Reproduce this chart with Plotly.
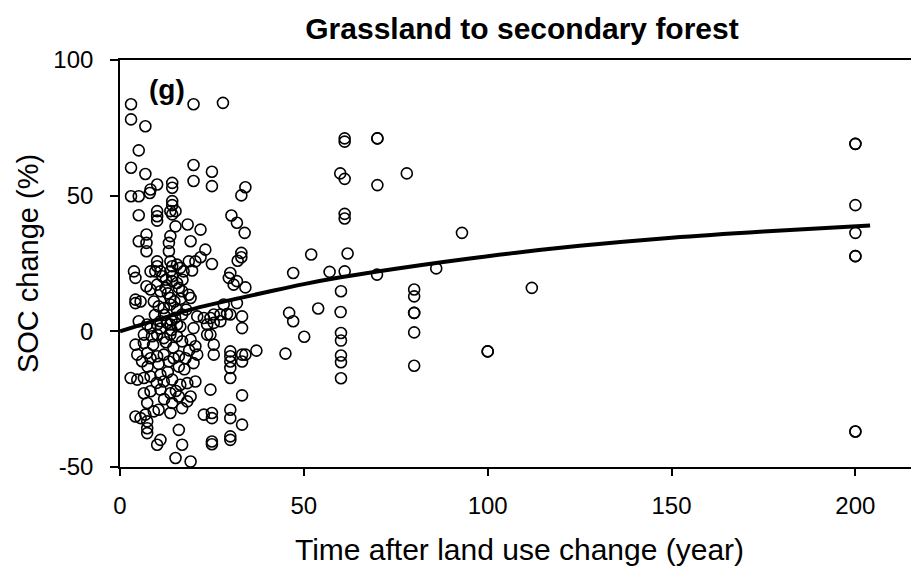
import plotly.graph_objects as go

AGE = [
    3, 20, 28, 3, 6.9, 5.1, 3, 6.9, 20, 25, 10.1, 14.2, 14.2, 20, 25, 8.3,
    3, 5.1, 8.1, 14.2, 14.2, 5.1, 10.1, 10.1, 10.1, 13.7, 15.1, 14.2, 15.1, 18.4, 21.9,
    7.2, 5.1, 7.2, 7.2, 13.7, 13.3, 13.3, 19.2, 23.2, 21.9, 18.7, 20.5, 19.6, 25,
    10.1, 10.1, 9.6, 11, 11.5, 13.7, 14.2, 13.7, 14.2, 15.5, 16.4, 17.3, 3.8, 4.2, 8.3,
    7.2, 8.3, 10.1, 11, 12.4, 14.2, 15.5, 16, 16.9, 18.7, 19.2, 4.2, 4.2, 5.6, 9.2,
    10.5, 11.9, 13.7, 13.7, 15.5, 16.9, 21, 22.8, 24.6, 27.3, 29.1, 5.1, 7.4, 11, 12.8, 15.5,
    34.1, 33, 30.3, 31.8, 33.9, 33, 33, 32, 30, 29.6, 31.8, 30.9, 34.1, 31.8, 28.2,
    30, 33.2, 25.5, 25.5, 33.2, 37.1, 33.2, 34.1, 33.2, 30, 30, 30, 30, 30, 33.2,
    30, 30, 33.2, 30, 30,
    61.1, 61.1, 70, 70, 59.9, 61.1, 70, 78, 61.1, 61.1, 52, 61.9, 47.1, 57, 61.1, 69.9,
    60.1, 80, 80, 46, 47.1, 53.9, 60, 80, 80, 50.1, 60.1, 60.1, 80, 45, 60.1, 60.1,
    60.1, 80, 86, 93, 112, 100, 100,
    200, 200, 200, 200, 200, 200, 200, 200,
    8.3, 10.1, 13.7, 16.4, 20, 23.7, 24.6, 27.3, 4.2, 6.5, 6.5, 8.7, 10.1, 11.9, 13.7,
    15.5, 16.9, 19.2, 20.5, 23.7, 25.5, 25.5, 4.7, 7.4, 8.3, 10.1, 11.9, 13.3, 14.6, 16,
    17.8, 20, 21, 2.9, 4.7, 6.5, 8.3, 11, 11.9, 14.2, 16.4, 18.3, 20.5, 6.5, 8.3, 11,
    13.7, 16, 19.2, 24.6, 7.4, 9.2, 10.5, 14.2, 13.7, 18.3, 16.9, 22.8, 25, 25, 4.2,
    5.6, 6.9, 7.4, 7.4, 7.4, 16, 11, 10.1, 16.9, 25, 25, 15.1, 19.2,
    12.5, 13, 14.8, 15, 16.5, 17, 18, 12, 14, 9.5, 11, 12.5, 14.5, 16, 13, 10.5, 9,
    7.5, 15.2, 12, 17.5, 18.8, 6, 10, 14,
]
SOC = [
    83.7, 83.7, 84.2, 78.1, 75.6, 66.7, 60.3, 58, 61.3, 58.8, 54.1, 54.7, 52.9, 55.4, 53.5, 52.3,
    49.8, 49.8, 51, 48, 46.5, 42.8, 44.3, 42.4, 40.8, 44.3, 44.3, 43.1, 38.7, 39.4, 37.5,
    35.7, 33.2, 32.6, 29.5, 35.1, 32.6, 29.5, 33.2, 30.1, 27.3, 25.8, 25.8, 22.4, 24.8,
    25.8, 24, 22.1, 22.1, 20.3, 25.8, 24, 22.1, 20.3, 24.6, 23.4, 22.1, 22.1, 19.7, 22.1,
    16.6, 15.4, 17.2, 14.8, 16, 18.5, 17.8, 16, 14.8, 13.5, 12.3, 11.7, 10.4, 11, 11,
    9.2, 8.6, 12.3, 9.9, 8, 6.2, 5.5, 4.9, 4.9, 6.2, 6.4, 3.7, 2.5, 3.7, 3.1, 2.5,
    53.1, 50.1, 42.7, 40, 36.3, 28.9, 27.3, 26, 21.5, 19.7, 18.5, 17.2, 16.2, 10.4, 9.9,
    6.2, 5.5, 6.2, 3.1, 1.2, -7.1, -8.6, -8.6, -11.1, -7.4, -9.2, -11.1, -13.5, -17.2, -23.6,
    -28.9, -32, -34.4, -38.7, -40,
    71.1, 69.9, 71.1, 71.1, 58.2, 56.2, 53.9, 58.2, 43.3, 41.6, 28.3, 28.7, 21.5, 21.9, 22.1, 20.9,
    14.8, 15.4, 12.9, 6.8, 3.7, 8.4, 7.1, 6.8, 6.8, -2, -0.6, -3.4, -0.4, -8.2, -8.9, -11.4,
    -17.3, -12.7, 23.2, 36.3, 16, -7.4, -7.4,
    69.1, 69.1, 46.5, 36.3, 27.7, 27.7, -36.9, -36.9,
    1.2, 2.5, 2.5, 1.8, 1.2, 2.5, -1.2, 3.7, -4.9, -4.3, -1.2, -1.8, -1.2, -2.5, -1.2,
    -1.8, -3.7, -3.1, -5.5, -1.2, -4.9, -8.6, -8.6, -8, -9.9, -9.2, -8.6, -11.1, -9.9, -9.2,
    -9.9, -11.7, -8.6, -17.2, -17.8, -17.2, -16.6, -16, -18.5, -17.8, -19.7, -19.1, -18.5, -22.8, -22.1, -21.5,
    -22.8, -24, -24, -21.5, -26.4, -29.5, -28.9, -26.4, -30.1, -25.8, -28.3, -30.7, -30.1, -32, -31.4,
    -32, -30.7, -33.2, -35.7, -37.5, -36.3, -40, -41.8, -41.8, -40.6, -41.6, -46.7, -48,
    19, 14, 11, 5, 12, 19, 8, 6, 4, 6, 1, -4, -6, -13, -15, -12, -5,
    -13, -22, -25, -14, -7, -11, -19, 0.5,
]

# Fitted response curve, read at a few years along the drawn line.
CURVE_AGE = [0, 10, 20, 30, 40, 50, 60, 75, 100, 125, 150, 175, 204]
CURVE_SOC = [0, 4.2, 8.3, 11.5, 14.5, 17.4, 19.9, 23.1, 27.7, 31.5, 34.5, 36.8, 39.0]

X_TICKS = [0, 50, 100, 150, 200]
Y_TICKS = [-50, 0, 50, 100]
Y_TICK_TEXT = ["-50", "0", "50", "100"]

FONT = "Arial, Liberation Sans, sans-serif"

fig = go.Figure()
fig.add_trace(go.Scatter(
    x=AGE, y=SOC, mode="markers",
    marker=dict(symbol="circle-open", size=11, color="black", line=dict(width=1.6, color="black")),
    showlegend=False,
))
fig.add_trace(go.Scatter(
    x=CURVE_AGE, y=CURVE_SOC, mode="lines",
    line=dict(color="black", width=4, shape="spline"),
    showlegend=False,
))

fig.add_annotation(
    x=12.9, y=89, xref="x", yref="y", text="<b>(g)</b>", showarrow=False,
    font=dict(family=FONT, size=28, color="black"),
)

# the page adds an 8px body margin, so the margins are 8px short of the reference
fig.update_layout(
    width=919, height=571,
    margin=dict(l=112, r=8, t=52, b=112),
    paper_bgcolor="white", plot_bgcolor="white",
    font=dict(family=FONT, color="black"),
    title=dict(
        text="<b>Grassland to secondary forest</b>",
        x=514 / 919, xanchor="center", y=1 - 20 / 571, yanchor="middle",
        font=dict(family=FONT, size=30, color="black"),
    ),
)
fig.update_xaxes(
    range=[0, 217.3], showgrid=False, zeroline=False,
    showline=True, linecolor="black", linewidth=1.6, mirror=True,
    ticks="outside", ticklen=7, tickwidth=1.5, tickcolor="black",
    tickvals=X_TICKS, ticklabelstandoff=9,
    tickfont=dict(family=FONT, size=24, color="black"),
    title=dict(text="Time after land use change (year)", standoff=21,
               font=dict(family=FONT, size=30, color="black")),
)
fig.update_yaxes(
    range=[-50, 100], showgrid=False, zeroline=False,
    showline=True, linecolor="black", linewidth=1.6,
    ticks="outside", ticklen=8, tickwidth=1.5, tickcolor="black",
    tickvals=Y_TICKS, ticktext=Y_TICK_TEXT, ticklabelstandoff=12,
    tickfont=dict(family=FONT, size=24, color="black"),
    title=dict(text="SOC change (%)", standoff=6,
               font=dict(family=FONT, size=29, color="black")),
)

fig.write_html("out.html")
